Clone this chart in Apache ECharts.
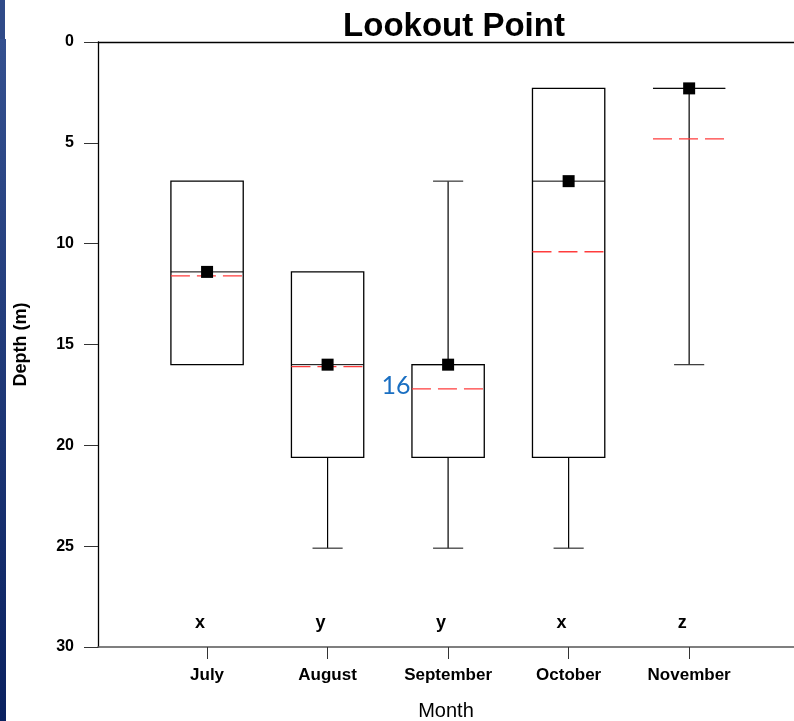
<!DOCTYPE html>
<html>
<head>
<meta charset="utf-8">
<script src="https://cdn.jsdelivr.net/npm/echarts@6/dist/echarts.min.js"></script>
<style>
  html, body { margin: 0; padding: 0; background: #ffffff; }
  #chart { width: 794px; height: 721px; }
</style>
</head>
<body>
<div id="chart"></div>
<script>
// Depth distribution per month (m, positive downward)
const months = ['July', 'August', 'September', 'October', 'November'];
const minDepth = [6.9, 11.4, 6.9, 2.3, 2.3];
const q1Depth = [6.9, 11.4, 16.0, 2.3, 2.3];
const medianDepth = [11.4, 16.0, 16.0, 6.9, 2.3];
const q3Depth = [16.0, 20.6, 20.6, 20.6, 2.3];
const maxDepth = [16.0, 25.1, 25.1, 25.1, 16.0];
const meanDepth = [11.6, 16.1, 17.2, 10.4, 4.8];
// Significance group letters shown near the bottom of the plot
const groupLetters = ['x', 'y', 'y', 'x', 'z'];
const letterDepth = 28.8;
// Month whose median gets an annotation
const annotatedMonth = 'September';

const positions = months.map((m, i) => i + 1);
const boxRows = months.map((m, i) => [
  positions[i], minDepth[i], q1Depth[i], medianDepth[i], q3Depth[i], maxDepth[i], meanDepth[i]
]);

const FONT = 'Liberation Sans, Arial, sans-serif';

function renderBox(params, api) {
  const x = api.value(0);
  const pt = v => api.coord([x, v]);
  const cx = pt(api.value(3))[0];
  const yMin = pt(api.value(1))[1];
  const yQ1 = pt(api.value(2))[1];
  const yMed = pt(api.value(3))[1];
  const yQ3 = pt(api.value(4))[1];
  const yMax = pt(api.value(5))[1];
  const yMean = pt(api.value(6))[1];
  const boxW = api.size([0.6, 0])[0];
  const capW = api.size([0.25, 0])[0];
  const stroke = { stroke: '#000', lineWidth: 1.2, fill: null };
  const kids = [];
  const hline = (y, w, style) => ({
    type: 'line',
    shape: { x1: cx - w / 2, y1: y, x2: cx + w / 2, y2: y },
    style: style
  });
  // upper whisker (shallow side)
  if (yQ1 - yMin > 0.5) {
    kids.push({ type: 'line', shape: { x1: cx, y1: yMin, x2: cx, y2: yQ1 }, style: stroke });
    kids.push(hline(yMin, capW, { stroke: '#333', lineWidth: 1.2 }));
  }
  // lower whisker (deep side)
  if (yMax - yQ3 > 0.5) {
    kids.push({ type: 'line', shape: { x1: cx, y1: yQ3, x2: cx, y2: yMax }, style: stroke });
    kids.push(hline(yMax, capW, { stroke: '#333', lineWidth: 1.2 }));
  }
  // box
  if (yQ3 - yQ1 > 0.5) {
    kids.push({
      type: 'rect',
      shape: { x: cx - boxW / 2, y: yQ1, width: boxW, height: yQ3 - yQ1 },
      style: { stroke: '#000', lineWidth: 1.3, fill: '#fff' }
    });
  } else {
    kids.push(hline(yQ1, boxW, { stroke: '#555', lineWidth: 1.2 }));
  }
  // median
  kids.push(hline(yMed, boxW, { stroke: '#000', lineWidth: 1 }));
  // mean (dashed red)
  kids.push(hline(yMean, boxW, { stroke: '#ff3c3c', lineWidth: 1.3, lineDash: [19, 7] }));
  return { type: 'group', children: kids };
}

const chart = echarts.init(document.getElementById('chart'), null, { renderer: 'canvas' });

chart.setOption({
  backgroundColor: '#ffffff',
  animation: false,
  title: {
    text: 'Lookout Point',
    left: 449,
    textAlign: 'center',
    top: 5,
    textStyle: { fontFamily: FONT, fontWeight: 'bold', fontSize: 33, color: '#000' }
  },
  graphic: [
    {
      type: 'rect',
      shape: { x: 0, y: 0, width: 5, height: 40 },
      style: { fill: '#2f4a88' },
      silent: true
    },
    {
      type: 'rect',
      shape: { x: 0, y: 39, width: 6, height: 682 },
      style: {
        fill: new echarts.graphic.LinearGradient(0, 0, 0, 1, [
          { offset: 0, color: '#34508f' },
          { offset: 1, color: '#0a2160' }
        ])
      },
      silent: true
    }
  ],
  grid: { left: 98, right: 0, top: 42, bottom: 74, containLabel: false, outerBoundsMode: 'none' },
  xAxis: [
    {
      type: 'value',
      min: 0.095,
      max: 5.87,
      name: 'Month',
      nameLocation: 'middle',
      nameGap: 54,
      nameTextStyle: { fontFamily: FONT, fontSize: 20, color: '#000' },
      axisLine: { show: true, onZero: false, lineStyle: { color: '#555', width: 1.5 } },
      axisTick: { show: true, customValues: positions, length: 12, lineStyle: { color: '#333', width: 1 } },
      axisLabel: {
        show: true,
        customValues: positions,
        margin: 20,
        formatter: v => months[Math.round(v) - 1],
        fontFamily: FONT, fontWeight: 'bold', fontSize: 17, color: '#000'
      },
      splitLine: { show: false }
    },
    {
      type: 'value',
      position: 'top',
      min: 0.095,
      max: 5.87,
      axisLine: { show: true, onZero: false, lineStyle: { color: '#000', width: 1.3 } },
      axisTick: { show: false },
      axisLabel: { show: false },
      splitLine: { show: false }
    }
  ],
  yAxis: {
    type: 'value',
    inverse: true,
    min: 0,
    max: 30,
    interval: 5,
    name: 'Depth (m)',
    nameLocation: 'middle',
    nameGap: 68,
    nameTextStyle: { fontFamily: FONT, fontWeight: 'bold', fontSize: 18, color: '#000' },
    axisLine: { show: true, onZero: false, lineStyle: { color: '#000', width: 1.3 } },
    axisTick: { show: true, length: 14, lineStyle: { color: '#333', width: 1 } },
    axisLabel: { margin: 24, fontFamily: FONT, fontWeight: 'bold', fontSize: 16, color: '#000' },
    splitLine: { show: false }
  },
  series: [
    {
      name: 'boxes',
      type: 'custom',
      renderItem: renderBox,
      data: boxRows,
      encode: { x: 0, y: [1, 2, 3, 4, 5, 6] },
      z: 2
    },
    {
      name: 'median',
      type: 'scatter',
      symbol: 'rect',
      symbolSize: 12,
      itemStyle: { color: '#000', opacity: 1 },
      data: months.map((m, i) => [positions[i], medianDepth[i]]),
      z: 5
    },
    {
      name: 'groups',
      type: 'scatter',
      symbolSize: 1,
      itemStyle: { color: 'rgba(0,0,0,0)', opacity: 1 },
      data: months.map((m, i) => [positions[i], letterDepth, groupLetters[i]]),
      label: {
        show: true,
        position: 'inside',
        offset: [-7, 0],
        formatter: p => p.value[2],
        fontFamily: FONT, fontWeight: 'bold', fontSize: 18, color: '#000'
      },
      z: 5
    },
    {
      name: 'median note',
      type: 'scatter',
      symbolSize: 1,
      itemStyle: { color: 'rgba(0,0,0,0)', opacity: 1 },
      data: months
        .map((m, i) => [positions[i], medianDepth[i], m])
        .filter(r => r[2] === annotatedMonth),
      label: {
        show: true,
        position: 'inside',
        offset: [-52, 21],
        formatter: p => String(Math.round(p.value[1] * 10) / 10),
        fontFamily: 'Lato, Open Sans, sans-serif', fontSize: 25, color: '#1a6fc2'
      },
      z: 6
    }
  ]
});
</script>
</body>
</html>
